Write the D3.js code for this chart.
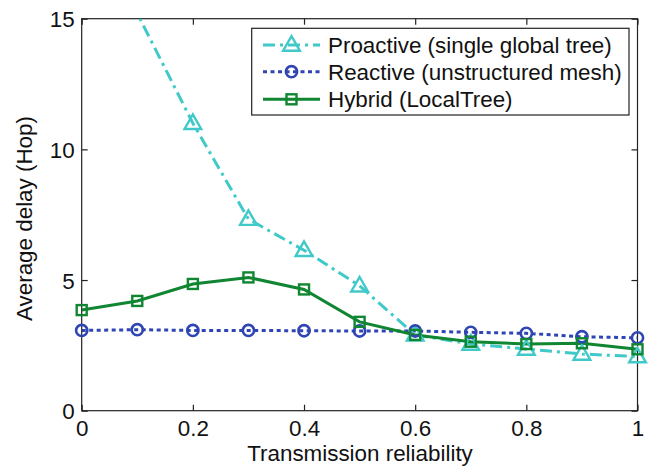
<!DOCTYPE html>
<html><head><meta charset="utf-8">
<script src="https://cdn.jsdelivr.net/npm/d3@7"></script>
<style>body{margin:0;background:#fff}svg{display:block}text{font-family:"Liberation Sans",Arial,sans-serif}</style>
</head><body>
<svg id="c" width="648" height="469"></svg>
<script>
const xValues = [0, 0.1, 0.2, 0.3, 0.4, 0.5, 0.6, 0.7, 0.8, 0.9, 1.0];
const proactive = [21, 15.2, 11.0, 7.33, 6.14, 4.78, 2.9, 2.55, 2.36, 2.17, 2.07];
const reactive = [3.07, 3.1, 3.07, 3.07, 3.06, 3.05, 3.05, 3.0, 2.96, 2.83, 2.79];
const hybrid = [3.85, 4.2, 4.85, 5.1, 4.64, 3.4, 2.9, 2.64, 2.55, 2.58, 2.35];
const xTicks = [0, 0.2, 0.4, 0.6, 0.8, 1];
const xTickLabels = ["0", "0.2", "0.4", "0.6", "0.8", "1"];
const yTicks = [0, 5, 10, 15];
const seriesNames = ["Proactive (single global tree)", "Reactive (unstructured mesh)", "Hybrid (LocalTree)"];
const seriesColors = ["#41c9c9", "#2f45b3", "#108632"];

const svg = d3.select("#c");
const L = 81.7, R = 637.5, T = 18.7, B = 410.7;
const FS = 22.4;
const x = d3.scaleLinear().domain([0, 1]).range([L, R]);
const y = d3.scaleLinear().domain([0, 15]).range([B, T]);

svg.append("clipPath").attr("id", "clip").append("rect")
  .attr("x", L).attr("y", T).attr("width", R - L).attr("height", B - T);

const axColor = "#222";
svg.append("rect").attr("x", L).attr("y", T).attr("width", R - L).attr("height", B - T)
  .attr("fill", "none").attr("stroke", axColor).attr("stroke-width", 1.2);

const xb = svg.append("g").attr("transform", `translate(0,${B})`)
  .call(d3.axisBottom(x).tickValues(xTicks).tickFormat((d, i) => xTickLabels[i]).tickSizeInner(-6).tickSizeOuter(0).tickPadding(9));
const xt = svg.append("g").attr("transform", `translate(0,${T})`)
  .call(d3.axisTop(x).tickValues(xTicks).tickFormat("").tickSizeInner(-6).tickSizeOuter(0));
const yl = svg.append("g").attr("transform", `translate(${L},0)`)
  .call(d3.axisLeft(y).tickValues(yTicks).tickSizeInner(-6).tickSizeOuter(0).tickPadding(7));
const yr = svg.append("g").attr("transform", `translate(${R},0)`)
  .call(d3.axisRight(y).tickValues(yTicks).tickFormat("").tickSizeInner(-6).tickSizeOuter(0));
[xb, xt, yl, yr].forEach(g => {
  g.select(".domain").remove();
  g.selectAll("line").attr("stroke", axColor).attr("stroke-width", 1.2);
  g.selectAll("text").attr("font-size", FS).attr("fill", "#111")
    .attr("font-family", "'Liberation Sans', Arial, sans-serif");
});
yl.selectAll("text").attr("dy", "0.36em");

svg.append("text").attr("x", 360).attr("y", 461).attr("text-anchor", "middle")
  .attr("font-size", FS).attr("fill", "#111").text("Transmission reliability");
svg.append("text").attr("transform", `translate(32,218.5) rotate(-90)`).attr("text-anchor", "middle")
  .attr("font-size", FS).attr("fill", "#111").text("Average delay (Hop)");

const dashes = ["12,5,3,5", "4,3.5", null];
const allSeries = [proactive, reactive, hybrid];
const line = d3.line().x((d, i) => x(xValues[i])).y(d => y(d));
const plot = svg.append("g").attr("clip-path", "url(#clip)");
const markG = svg.append("g");

function marker(g, k, cx, cy) {
  const c = seriesColors[k];
  if (k === 0) {
    const s = 8.8;
    g.append("path").attr("d", `M${cx},${cy - s}L${cx + s * 0.95},${cy + s * 0.65}L${cx - s * 0.95},${cy + s * 0.65}Z`)
      .attr("fill", "none").attr("stroke", c).attr("stroke-width", 2.4);
  } else if (k === 1) {
    g.append("circle").attr("cx", cx).attr("cy", cy).attr("r", 5.6)
      .attr("fill", "none").attr("stroke", c).attr("stroke-width", 2.6);
  } else {
    g.append("rect").attr("x", cx - 5).attr("y", cy - 5).attr("width", 10).attr("height", 10)
      .attr("fill", "none").attr("stroke", c).attr("stroke-width", 2.4);
  }
}

allSeries.forEach((vals, k) => {
  const p = plot.append("path").datum(vals).attr("d", line).attr("fill", "none")
    .attr("stroke", seriesColors[k]).attr("stroke-width", 3);
  if (dashes[k]) p.attr("stroke-dasharray", dashes[k]);
  vals.forEach((v, i) => { if (v <= y.domain()[1]) marker(markG, k, x(xValues[i]), y(v)); });
});

const lg = svg.append("g");
lg.append("rect").attr("x", 251.7).attr("y", 28.3).attr("width", 377.3).attr("height", 86.7)
  .attr("fill", "#fff").attr("stroke", axColor).attr("stroke-width", 1.2);
const ly = [45, 71.7, 99.3];
seriesNames.forEach((name, k) => {
  const l = lg.append("line").attr("x1", 263).attr("x2", 320).attr("y1", ly[k]).attr("y2", ly[k])
    .attr("stroke", seriesColors[k]).attr("stroke-width", 3);
  if (dashes[k]) l.attr("stroke-dasharray", dashes[k]);
  marker(lg, k, 291.5, ly[k]);
  lg.append("text").attr("x", 328).attr("y", ly[k]).attr("dy", "0.36em")
    .attr("font-size", FS).attr("fill", "#111").text(name);
});
</script>
</body></html>
